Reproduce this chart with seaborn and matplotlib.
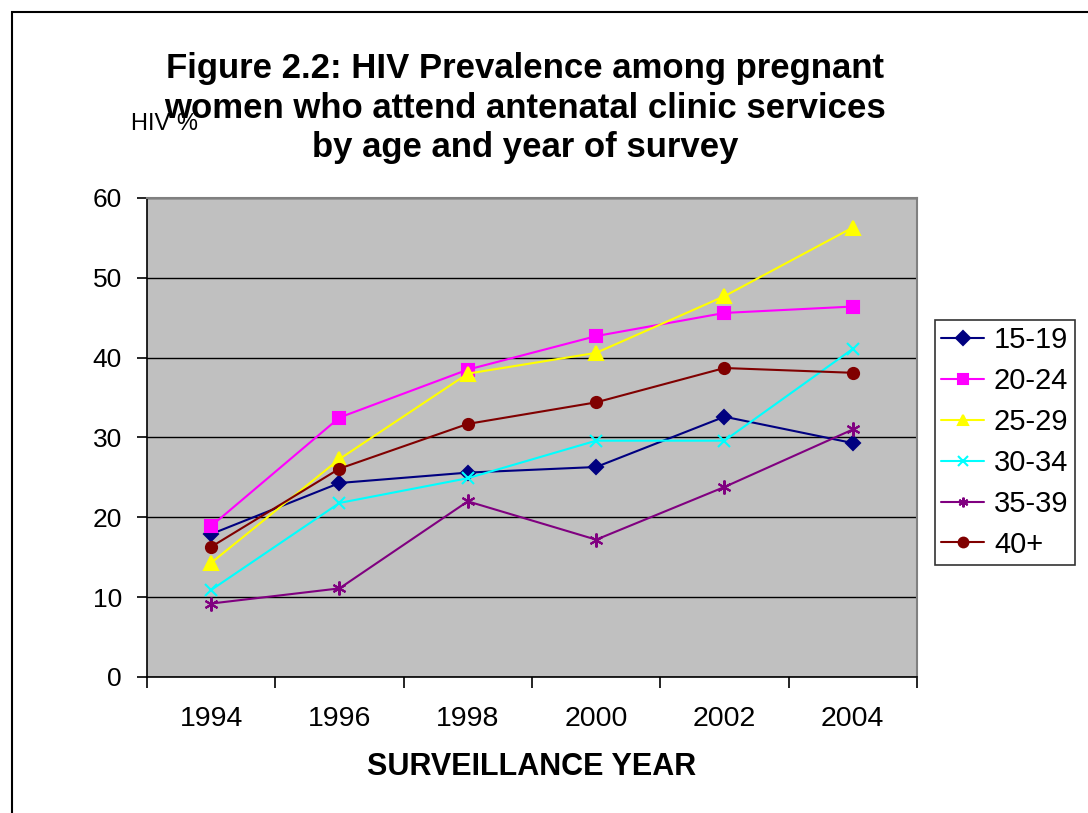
import matplotlib
matplotlib.use("Agg")
import matplotlib.pyplot as plt
import matplotlib.patches as mpatches
import numpy as np
import pandas as pd
import seaborn as sns

# Survey years and HIV prevalence (%) by age group
years = [1994, 1996, 1998, 2000, 2002, 2004]
age_groups = ["15-19", "20-24", "25-29", "30-34", "35-39", "40+"]
prev_15_19 = [17.9, 24.3, 25.6, 26.3, 32.6, 29.3]
prev_20_24 = [18.9, 32.5, 38.5, 42.7, 45.6, 46.4]
prev_25_29 = [14.3, 27.3, 38.0, 40.6, 47.7, 56.3]
prev_30_34 = [10.9, 21.8, 24.9, 29.6, 29.6, 41.1]
prev_35_39 = [9.2, 11.1, 22.0, 17.2, 23.8, 31.0]
prev_40_plus = [16.3, 26.1, 31.7, 34.4, 38.7, 38.1]

series = [prev_15_19, prev_20_24, prev_25_29, prev_30_34, prev_35_39, prev_40_plus]
df = pd.DataFrame(
    [(y, g, v) for g, vals in zip(age_groups, series) for y, v in zip(years, vals)],
    columns=["year", "age", "prevalence"],
)

palette = {
    "15-19": "#000080",
    "20-24": "#FF00FF",
    "25-29": "#FFFF00",
    "30-34": "#00FFFF",
    "35-39": "#800080",
    "40+": "#800000",
}
markers = {
    "15-19": "D",
    "20-24": "s",
    "25-29": "^",
    "30-34": "x",
    "35-39": (6, 2, 0),
    "40+": "o",
}
marker_sizes = {"15-19": 7, "20-24": 8, "25-29": 10, "30-34": 9, "35-39": 10, "40+": 8}

sns.set_theme(style="white")
plt.rcParams["font.family"] = ["Liberation Sans", "DejaVu Sans"]
plt.rcParams["text.color"] = "black"
plt.rcParams["axes.labelcolor"] = "black"
plt.rcParams["xtick.color"] = "black"
plt.rcParams["ytick.color"] = "black"

fig = plt.figure(figsize=(10.88, 8.13), dpi=100)
ax = fig.add_axes([0.1351, 0.1673, 0.8428 - 0.1351, 0.7565 - 0.1673])
ax.set_facecolor("#C0C0C0")

for g in age_groups:
    sub = df[df["age"] == g]
    sns.lineplot(
        data=sub, x="year", y="prevalence", color=palette[g], marker=markers[g],
        markersize=marker_sizes[g], markeredgewidth=1.5, markeredgecolor=palette[g],
        linewidth=1.5, label=g, ax=ax,
    )

ax.set_xlim(1993, 2005)
ax.set_ylim(0, 60)
ax.set_yticks(np.arange(0, 61, 10))
# category boundaries carry the tick marks, category centres carry the labels
ax.set_xticks(np.arange(1993, 2006, 2))
ax.set_xticklabels([])
ax.set_xticks(years, minor=True)
ax.set_xticklabels([str(y) for y in years], minor=True)
ax.tick_params(axis="x", which="major", length=8, width=1.2, color="black", direction="out", bottom=True)
ax.tick_params(axis="x", which="minor", length=0, labelsize=20.5, pad=21)
ax.tick_params(axis="y", length=7, width=1.2, color="black", direction="out", left=True, labelsize=19, pad=11)
ax.yaxis.grid(True, color="black", linewidth=1.0)
ax.xaxis.grid(False)
ax.set_axisbelow(True)

for side in ["left", "bottom"]:
    ax.spines[side].set_color("black")
    ax.spines[side].set_linewidth(1.2)
for side in ["top", "right"]:
    ax.spines[side].set_color("#808080")
    ax.spines[side].set_linewidth(1.5)

ax.set_xlabel("SURVEILLANCE YEAR", fontsize=22, fontweight="bold", labelpad=14)
ax.set_ylabel("")

handles, labels = ax.get_legend_handles_labels()
ax.get_legend().remove()
leg = fig.legend(
    handles, labels, loc="upper left", bbox_to_anchor=(935 / 1088, 1 - 320 / 813),
    borderaxespad=0, fontsize=21, frameon=True, fancybox=False, edgecolor="black",
    handlelength=1.45, handletextpad=0.35, labelspacing=0.44, borderpad=0.22,
)
leg.get_frame().set_linewidth(1.2)
for h in leg.legend_handles:
    h.set_markersize(7)

fig.text(0.4825, 1 - 108 / 813, "Figure 2.2: HIV Prevalence among pregnant\nwomen who attend antenatal clinic services\nby age and year of survey",
         ha="center", va="center", fontsize=25, fontweight="bold", linespacing=1.24)
fig.text(131 / 1088, 1 - 124 / 813, "HIV %", ha="left", va="center", fontsize=17)

# Outer chart frame
fig.patches.append(mpatches.Rectangle((12 / 1088, -0.01), 1.05, 1 - 12 / 813 + 0.01,
                                      transform=fig.transFigure, fill=False,
                                      edgecolor="black", linewidth=1.5))

fig.savefig("out.png", dpi=100)
